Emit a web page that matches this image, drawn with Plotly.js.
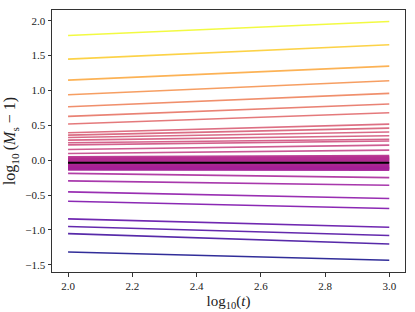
<!DOCTYPE html>
<html>
<head>
<meta charset="utf-8">
<script src="https://cdn.plot.ly/plotly-3.0.1.min.js"></script>
<style>html,body{margin:0;padding:0;background:#fff;}#chart{width:415px;height:312px;}</style>
</head>
<body>
<div id="chart"></div>
<script>
// log10(t) endpoints of each curve
const tStart = 2.0;
const tEnd = 3.0;
// log10(Ms - 1) at the start and end of each curve
const startVals = [1.79, 1.45, 1.149, 0.938, 0.766, 0.628, 0.52,
  0.393, 0.36, 0.326, 0.287, 0.249, 0.22, 0.154, 0.096,
  -0.19, -0.297, -0.455, -0.589, -0.843, -0.953, -1.054, -1.317];
const endVals = [1.99, 1.657, 1.35, 1.14, 0.958, 0.805, 0.68,
  0.517, 0.46, 0.405, 0.35, 0.30, 0.275, 0.216, 0.144,
  -0.25, -0.36, -0.55, -0.694, -0.963, -1.082, -1.203, -1.437];
// densely packed curves near zero
const bandStart = [0.035, 0.015, -0.005, -0.025, -0.055, -0.075, -0.095, -0.115, -0.128];
const bandEnd = [0.052, 0.03, 0.008, -0.015, -0.055, -0.08, -0.1, -0.118, -0.13];
// reference curve
const refVal = [-0.038, -0.038];

const xTicks = [2.0, 2.2, 2.4, 2.6, 2.8, 3.0];
const yTicks = [-1.5, -1.0, -0.5, 0.0, 0.5, 1.0, 1.5, 2.0];

const plasma = ['#0d0887','#41049d','#6a00a8','#8f0da4','#b12a90','#cc4778','#e16462','#f2844b','#fca636','#fcce25','#f0f921'];
function hex(c){return [parseInt(c.slice(1,3),16),parseInt(c.slice(3,5),16),parseInt(c.slice(5,7),16)];}
function cmap(f){
  f = Math.max(0, Math.min(1, f));
  const p = f * (plasma.length - 1);
  const i = Math.min(Math.floor(p), plasma.length - 2);
  const u = p - i;
  const a = hex(plasma[i]), b = hex(plasma[i+1]);
  const r = a.map((v,k)=>Math.round(v + (b[k]-v)*u));
  return 'rgb(' + r.join(',') + ')';
}
const vmin = Math.min(...startVals), vmax = Math.max(...startVals);

const traces = [];
startVals.forEach((s, i) => {
  traces.push({
    x: [tStart, tEnd], y: [s, endVals[i]], mode: 'lines', type: 'scatter',
    line: {color: cmap((s - vmin) / (vmax - vmin)), width: 1.6},
    opacity: 0.85, hoverinfo: 'skip', showlegend: false
  });
});
bandStart.forEach((s, i) => {
  traces.push({
    x: [tStart, tEnd], y: [s, bandEnd[i]], mode: 'lines', type: 'scatter',
    line: {color: cmap((s - vmin) / (vmax - vmin) - 0.02), width: 3.4},
    opacity: 0.92, hoverinfo: 'skip', showlegend: false
  });
});
traces.push({x: [tStart, tEnd], y: refVal, mode: 'lines', type: 'scatter',
  line: {color: '#000000', width: 2}, showlegend: false, hoverinfo: 'skip'});

const fontFam = "'Liberation Serif', 'DejaVu Serif', serif";
const layout = {
  width: 415, height: 312,
  margin: {l: 52, r: 10, t: 10, b: 40},
  paper_bgcolor: '#ffffff', plot_bgcolor: '#ffffff',
  font: {family: fontFam, color: '#222', size: 10},
  showlegend: false,
  xaxis: {
    range: [1.95, 3.049], tickvals: xTicks, ticktext: xTicks.map(v=>v.toFixed(1)),
    showgrid: false, zeroline: false, showline: true, mirror: true,
    linecolor: '#333', linewidth: 1, ticks: 'outside', ticklen: 3.5, tickcolor: '#333',
    tickfont: {family: fontFam, size: 11, color: '#222'},
    title: {text: 'log<sub>10</sub>(<i>t</i>)', font: {family: fontFam, size: 15, color: '#222'}, standoff: 4}
  },
  yaxis: {
    range: [-1.605, 2.155], tickvals: yTicks, ticktext: yTicks.map(v=> (v<0?'\u2212':'') + Math.abs(v).toFixed(1)),
    showgrid: false, zeroline: false, showline: true, mirror: true,
    linecolor: '#333', linewidth: 1, ticks: 'outside', ticklen: 3.5, tickcolor: '#333',
    tickfont: {family: fontFam, size: 11, color: '#222'},
    title: {text: 'log<sub>10</sub>\u2009(<i>M</i><sub>s</sub> \u2212 1)', font: {family: fontFam, size: 16, color: '#222'}, standoff: 5}
  }
};
Plotly.newPlot('chart', traces, layout, {displayModeBar: false, staticPlot: true});
</script>
</body>
</html>
